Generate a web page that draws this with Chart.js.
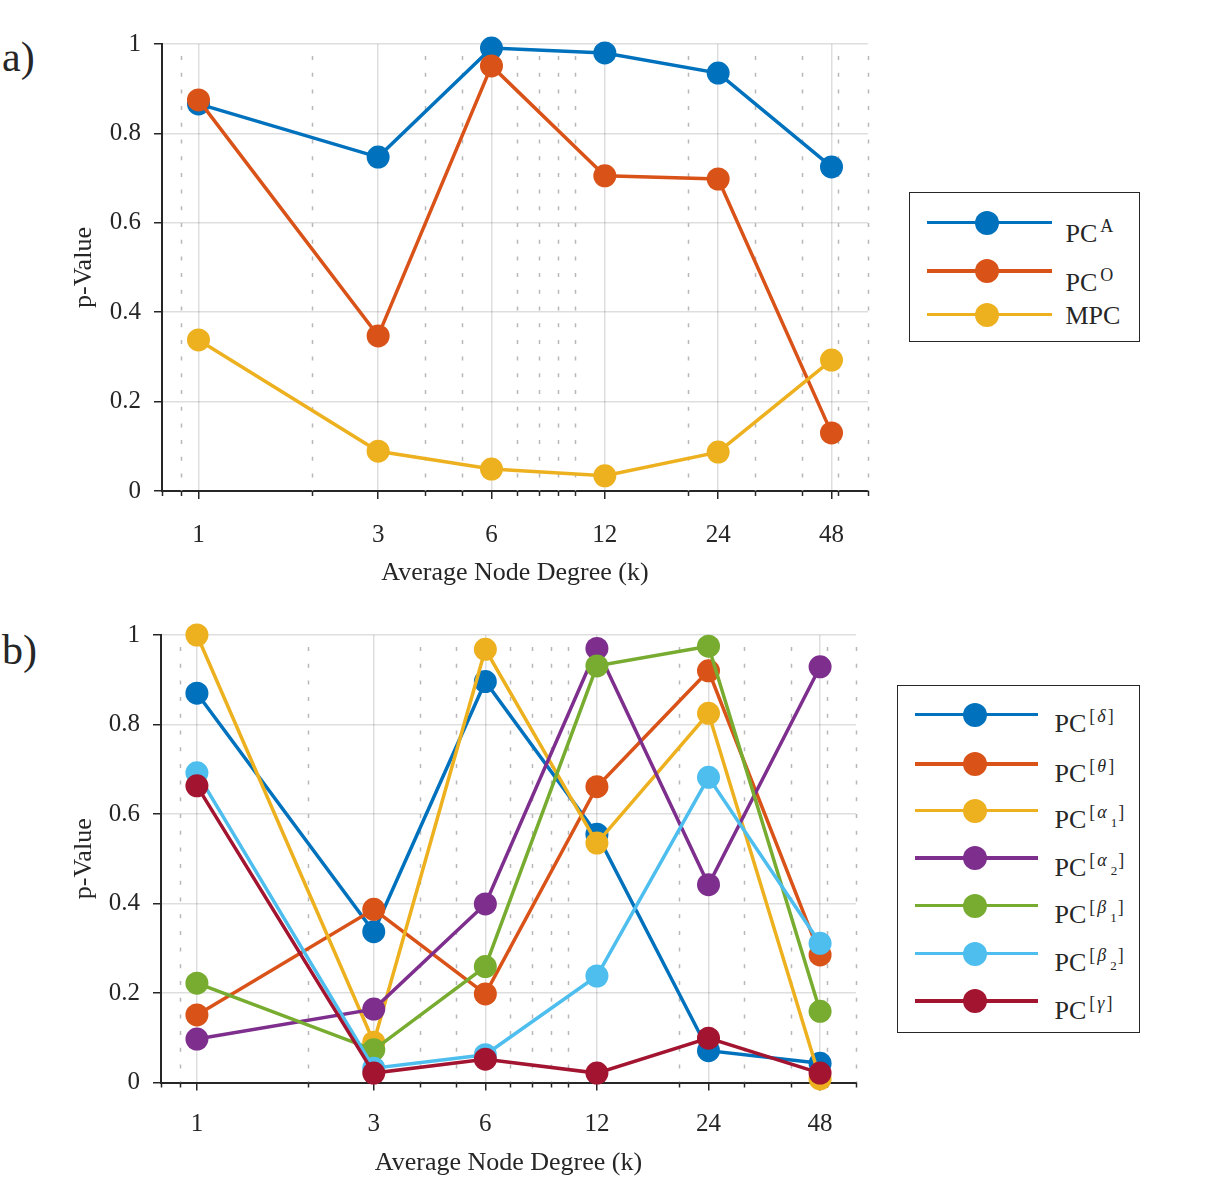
<!DOCTYPE html>
<html>
<head>
<meta charset="utf-8">
<script src="https://cdn.jsdelivr.net/npm/chart.js@4.4.1/dist/chart.umd.min.js"></script>
<style>
html,body{margin:0;padding:0;background:#fff;}
body{width:1226px;height:1183px;position:relative;overflow:hidden;font-family:"Liberation Serif",serif;color:#262626;}
canvas{position:absolute;left:0;}
.panel-label{position:absolute;left:2px;font-size:42px;line-height:42px;}
.legend{position:absolute;border:1.5px solid #262626;box-sizing:border-box;background:#fff;}
.lg-line{position:absolute;height:3.5px;}
.lg-dot{position:absolute;width:24px;height:24px;border-radius:50%;}
.lg-text{position:absolute;font-size:26px;line-height:26px;white-space:nowrap;}
.sp{position:relative;top:-10px;font-size:18px;margin-left:3px;}
.sp i{margin:0 2px;}
.sb{position:relative;top:9px;font-size:13px;margin-left:2px;margin-right:1px;}
</style>
</head>
<body>
<div class="panel-label" style="top:36px">a)</div>
<div class="panel-label" style="top:629px">b)</div>
<canvas id="ca" width="900" height="600" style="top:0"></canvas>
<canvas id="cb" width="900" height="583" style="top:600px"></canvas>
<div id="lga" class="legend" style="left:909px;top:192px;width:231px;height:150px"></div>
<div id="lgb" class="legend" style="left:897px;top:685px;width:243px;height:348px"></div>
<script>
// ---------- data ----------
const X_VALUES = [1, 3, 6, 12, 24, 48];
const X_TICKS = [1, 3, 6, 12, 24, 48];
const X_MINOR_GRID = [0.9, 2, 4, 5, 7, 8, 9, 10, 20, 30, 40, 50, 60];
const X_MINOR_TICKS = [0.8, 0.9, 2, 4, 5, 7, 8, 9, 10, 20, 30, 40, 50, 60];
const Y_TICKS = [0, 0.2, 0.4, 0.6, 0.8, 1];
const X_TITLE = 'Average Node Degree (k)';
const Y_TITLE = 'p-Value';

// panel a
const PC_A   = [0.866, 0.747, 0.991, 0.980, 0.935, 0.725];
const PC_O   = [0.875, 0.347, 0.951, 0.705, 0.698, 0.130];
const MPC    = [0.338, 0.089, 0.049, 0.034, 0.087, 0.293];
const NAMES_A = ['PC<span class="sp">A</span>', 'PC<span class="sp">O</span>', 'MPC'];

// panel b
const PC_DELTA  = [0.870, 0.337, 0.896, 0.555, 0.071, 0.043];
const PC_THETA  = [0.151, 0.387, 0.198, 0.661, 0.920, 0.285];
const PC_ALPHA1 = [1.000, 0.090, 0.968, 0.535, 0.825, 0.008];
const PC_ALPHA2 = [0.097, 0.164, 0.399, 0.970, 0.442, 0.929];
const PC_BETA1  = [0.222, 0.073, 0.259, 0.931, 0.975, 0.159];
const PC_BETA2  = [0.692, 0.032, 0.062, 0.238, 0.682, 0.311];
const PC_GAMMA  = [0.663, 0.021, 0.052, 0.021, 0.099, 0.021];
const NAMES_B = [
  'PC<span class="sp">[<i>δ</i>]</span>',
  'PC<span class="sp">[<i>θ</i>]</span>',
  'PC<span class="sp">[<i>α</i><span class="sb">1</span>]</span>',
  'PC<span class="sp">[<i>α</i><span class="sb">2</span>]</span>',
  'PC<span class="sp">[<i>β</i><span class="sb">1</span>]</span>',
  'PC<span class="sp">[<i>β</i><span class="sb">2</span>]</span>',
  'PC<span class="sp">[<i>γ</i>]</span>'
];

const COLORS = ['#0072BD', '#D95319', '#EDB120', '#7E2F8E', '#77AC30', '#4DBEEE', '#A2142F'];

// ---------- style ----------
const FONT = '"Liberation Serif", serif';
const TXT = '#262626';
const AX = '#262626';
const GRID = 'rgba(0,0,0,0.13)';

const minorGrid = {
  id: 'minorGrid',
  beforeDatasetsDraw(chart) {
    const {ctx, chartArea} = chart;
    const x = chart.scales.x;
    ctx.save();
    ctx.strokeStyle = '#b8b8b8';
    ctx.lineWidth = 1.5;
    ctx.setLineDash([4, 12.7]);
    ctx.lineDashOffset = 4.7;
    X_MINOR_GRID.forEach(v => {
      const px = Math.round(x.getPixelForValue(v)) + 0.5;
      ctx.beginPath();
      ctx.moveTo(px, chartArea.top);
      ctx.lineTo(px, chartArea.bottom);
      ctx.stroke();
    });
    ctx.setLineDash([]);
    ctx.strokeStyle = AX;
    ctx.lineWidth = 1.5;
    X_MINOR_TICKS.forEach(v => {
      const px = Math.round(x.getPixelForValue(v)) + 0.5;
      ctx.beginPath();
      ctx.moveTo(px, chartArea.bottom);
      ctx.lineTo(px, chartArea.bottom + 5);
      ctx.stroke();
    });
    ctx.restore();
  }
};

function makeChart(id, series, g) {
  return new Chart(document.getElementById(id), {
    type: 'line',
    data: {
      datasets: series.map((vals, i) => ({
        data: X_VALUES.map((xv, j) => ({x: xv, y: vals[j]})),
        borderColor: COLORS[i],
        backgroundColor: COLORS[i],
        pointBackgroundColor: COLORS[i],
        borderWidth: 3.5,
        pointRadius: 11.5,
        pointHoverRadius: 11.5,
        pointBorderWidth: 0,
        pointHoverBorderWidth: 0,
        tension: 0,
        clip: false,
        order: -i
      }))
    },
    options: {
      responsive: false,
      animation: false,
      events: [],
      layout: {padding: {left: 0, top: g.top, right: g.right, bottom: 0}},
      plugins: {legend: {display: false}, tooltip: {enabled: false}},
      scales: {
        x: {
          type: 'logarithmic', min: 0.8, max: 60,
          afterBuildTicks: s => { s.ticks = X_TICKS.map(v => ({value: v})); },
          afterFit: s => { s.height = g.xh; },
          ticks: {autoSkip: false, maxRotation: 0, minRotation: 0, padding: g.xpad, color: TXT,
                  font: {family: FONT, size: 25}, callback: v => String(v)},
          grid: {color: GRID, lineWidth: 1.5, tickLength: 8, tickColor: AX, tickWidth: 1.5},
          border: {color: AX, width: 2},
          title: {display: true, text: X_TITLE, color: TXT, font: {family: FONT, size: 26},
                  padding: {top: 0, bottom: g.tpad}}
        },
        y: {
          type: 'linear', min: 0, max: 1,
          afterBuildTicks: s => { s.ticks = Y_TICKS.map(v => ({value: v})); },
          afterFit: s => { s.width = g.yw; },
          ticks: {padding: 13, color: TXT, font: {family: FONT, size: 25}, callback: v => String(v)},
          grid: {color: GRID, lineWidth: 1.5, tickLength: 8, tickColor: AX, tickWidth: 1.5},
          border: {color: AX, width: 2},
          title: {display: true, text: Y_TITLE, color: TXT, font: {family: FONT, size: 26},
                  padding: {top: 69, bottom: 0}}
        }
      }
    },
    plugins: [minorGrid]
  });
}

makeChart('ca', [PC_A, PC_O, MPC], {top: 44, right: 32, xh: 109, yw: 162, xpad: 21, tpad: 11});
makeChart('cb', [PC_DELTA, PC_THETA, PC_ALPHA1, PC_ALPHA2, PC_BETA1, PC_BETA2, PC_GAMMA],
          {top: 35, right: 44, xh: 100.5, yw: 161, xpad: 18.5, tpad: 4.4});

function buildLegend(id, names, rows, baseOff, lineX0, lineX1, dotX, textX) {
  const box = document.getElementById(id);
  names.forEach((n, i) => {
    const y = rows[i];
    const line = document.createElement('div');
    line.className = 'lg-line';
    line.style.cssText = `left:${lineX0}px;width:${lineX1 - lineX0}px;top:${y - 1.75}px;background:${COLORS[i]}`;
    const dot = document.createElement('div');
    dot.className = 'lg-dot';
    dot.style.cssText = `left:${dotX - 12}px;top:${y - 12}px;background:${COLORS[i]}`;
    const t = document.createElement('div');
    t.className = 'lg-text';
    t.innerHTML = n;
    t.style.cssText = `left:${textX}px;top:${y + baseOff[i] - 21.8}px`;
    box.appendChild(line); box.appendChild(dot); box.appendChild(t);
  });
}
buildLegend('lga', NAMES_A, [29.5, 78.2, 121.5], [20.5, 20.5, 10], 16.5, 141.5, 76.5, 155.5);
buildLegend('lgb', NAMES_B, [28.5, 77.8, 124.5, 171.8, 219.5, 267.5, 315.2], [18.5, 18.5, 18.5, 18.5, 18.5, 18.5, 18.5], 16.5, 139.5, 76.5, 156.5);
</script>
</body>
</html>
